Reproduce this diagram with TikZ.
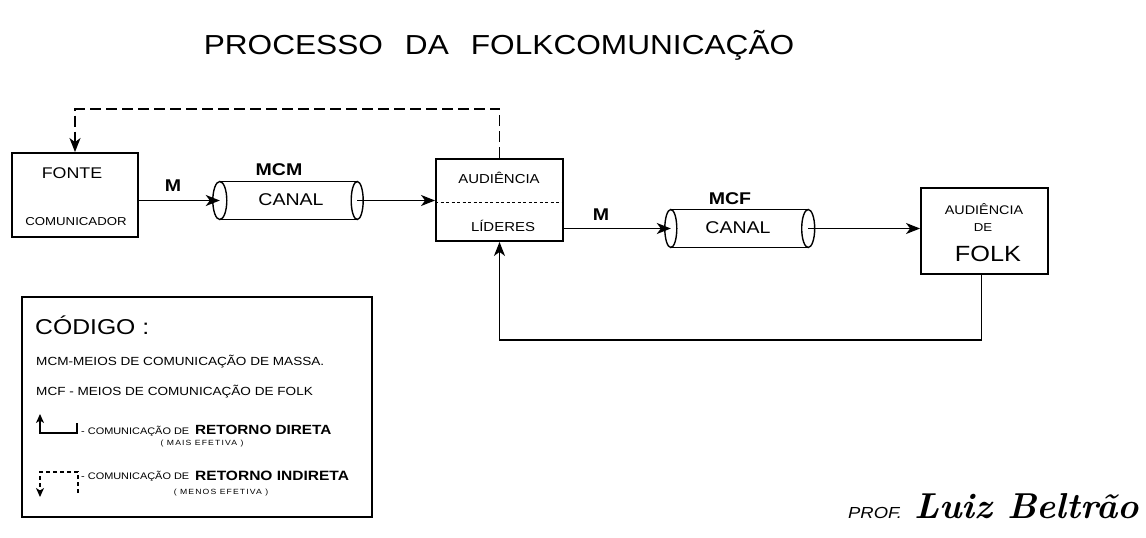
\documentclass[tikz,border=0pt]{standalone}
\usepackage{fontspec}
\setsansfont{Liberation Sans}[FakeStretch=1.15]
\renewcommand{\familydefault}{\sfdefault}
\usetikzlibrary{arrows.meta,calc}
\newcommand{\fs}[1]{\fontsize{#1}{#1}\selectfont}
\tikzset{
  box/.style={draw, line width=1.9pt, inner sep=0pt},
  cylnode/.style={inner sep=0pt, minimum height=38pt},
  cylline/.style={line width=1.4pt},
  txt/.style={inner sep=0pt},
  arr/.style={line width=1.5pt, -{Stealth[length=14pt,width=11pt,inset=4pt]}},
  arrsm/.style={line width=1.3pt, -{Stealth[length=9pt,width=8pt,inset=2.5pt]}},
  fbdash/.style={dash pattern=on 11pt off 5pt},
}
\begin{document}
\begin{tikzpicture}[x=1pt,y=-1pt]
\useasboundingbox (0,0) rectangle (1146,538);
\fill[white] (0,0) rectangle (1146,538);

% title
\node[txt] (title) at (499,45) {\fs{27.5}PROCESSO\hspace{22pt}DA\hspace{22pt}FOLKCOMUNICAÇÃO};

% fonte
\node[box, minimum width=126pt, minimum height=84pt] (fonte) at (75,195) {};
\node[txt] (fonteA) at (72,173) {\fs{15.5}FONTE};
\node[txt] (fonteB) at (76,222) {\fs{11.5}COMUNICADOR};

% canal 1
\node[cylnode, minimum width=137pt] (cyl1) at (288.5,200.5) {};
\draw[cylline] (cyl1.north west) -- (cyl1.north east) (cyl1.south west) -- (cyl1.south east);
\draw[cylline] (cyl1.west) ellipse [x radius=7pt, y radius=19pt];
\draw[cylline] (cyl1.east) ellipse [x radius=6pt, y radius=19pt];
\node[txt] (cyl1t) at (291,200) {\fs{17}CANAL};
\node[txt] (mcm) at (279,170) {\fs{17}\bfseries MCM};
\node[txt] (m1) at (173,186) {\fs{17}\bfseries M};

% audiencia / lideres
\node[box, minimum width=127pt, minimum height=82pt] (aud) at (499.5,200) {};
\draw[line width=1pt, dash pattern=on 3pt off 2.5pt] ($(aud.west)+(0,2)$) -- ($(aud.east)+(0,2)$);
\node[txt] (audA) at (499,178) {\fs{13}AUDIÊNCIA};
\node[txt] (audB) at (503,226) {\fs{13}LÍDERES};

% canal 2
\node[cylnode, minimum width=137pt] (cyl2) at (739.5,228.5) {};
\draw[cylline] (cyl2.north west) -- (cyl2.north east) (cyl2.south west) -- (cyl2.south east);
\draw[cylline] (cyl2.west) ellipse [x radius=6pt, y radius=19pt];
\draw[cylline] (cyl2.east) ellipse [x radius=6.5pt, y radius=19pt];
\node[txt] (cyl2t) at (738,228) {\fs{17}CANAL};
\node[txt] (mcf) at (730,199) {\fs{17}\bfseries MCF};
\node[txt] (m2) at (601,215) {\fs{17}\bfseries M};

% audiencia de folk
\node[box, minimum width=127pt, minimum height=86pt] (folk) at (984.5,231) {};
\node[txt] (folkA) at (984,209) {\fs{12.5}AUDIÊNCIA};
\node[txt] (folkB) at (983,228) {\fs{11.5}DE};
\node[txt] (folkC) at (988,254) {\fs{22}FOLK};

% connectors
\draw[arr] (fonte.east |- cyl1) -- (cyl1.west);
\draw[arr] (cyl1.east) -- (cyl1 -| aud.west);
\draw[arr] (aud.east |- cyl2) -- (cyl2.west);
\draw[arr] (cyl2.east) -- (cyl2 -| folk.west);
\draw[arr, fbdash] (aud.north) -- ++(0,-49) -| (fonte.north);
\coordinate (fbstart) at ($(folk.south)+(-3,0)$);
\draw[arr] (fbstart) -- ++(0,65) -| (aud.south);

% codigo box
\node[draw, line width=1.4pt, inner sep=0pt, minimum width=350pt, minimum height=220pt] (code) at (197,407) {};
\node[txt, anchor=west] (cod) at (35,325) {\fs{21.5}CÓDIGO :};
\node[txt, anchor=west] (cmcm) at (36,362) {\fs{11.8}MCM-MEIOS DE COMUNICAÇÃO DE MASSA.};
\node[txt, anchor=west] (cmcf) at (36,392) {\fs{11.8}MCF - MEIOS DE COMUNICAÇÃO DE FOLK};

% legend 1
\coordinate (l1c) at (77,423);
\coordinate (l1a) at (40,433);
\coordinate (l1top) at (40,414);
\draw[arrsm] (l1c) |- (l1a) -- (l1top);
\node[txt, anchor=base west] (l1s) at (81,434) {\fs{9.5}- COMUNICAÇÃO DE};
\node[txt, anchor=base west] (l1b) at (195,434) {\fs{13.3}\bfseries RETORNO DIRETA};
\node[txt] (l1p) at (202,444) {\fs{7.5}\addfontfeature{LetterSpace=15}( MAIS EFETIVA )};

% legend 2
\coordinate (l2c) at (78,493);
\coordinate (l2a) at (40,472);
\coordinate (l2bot) at (40,497);
\draw[arrsm, dash pattern=on 4pt off 3pt] (l2c) |- (l2a) -- (l2bot);
\node[txt, anchor=base west] (l2s) at (81,479) {\fs{9.5}- COMUNICAÇÃO DE};
\node[txt, anchor=base west] (l2b) at (195,480) {\fs{13.5}\bfseries RETORNO INDIRETA};
\node[txt] (l2p) at (221,493) {\fs{7.5}\addfontfeature{LetterSpace=15}( MENOS EFETIVA )};

% signature
\node[txt, anchor=base west] (prof) at (848,518) {\fs{16}\itshape PROF.};
\node[txt, anchor=base west] (sig) at (914,518) {\fs{36}\rmfamily\bfseries\itshape Luiz Beltrão};
\end{tikzpicture}
\end{document}
